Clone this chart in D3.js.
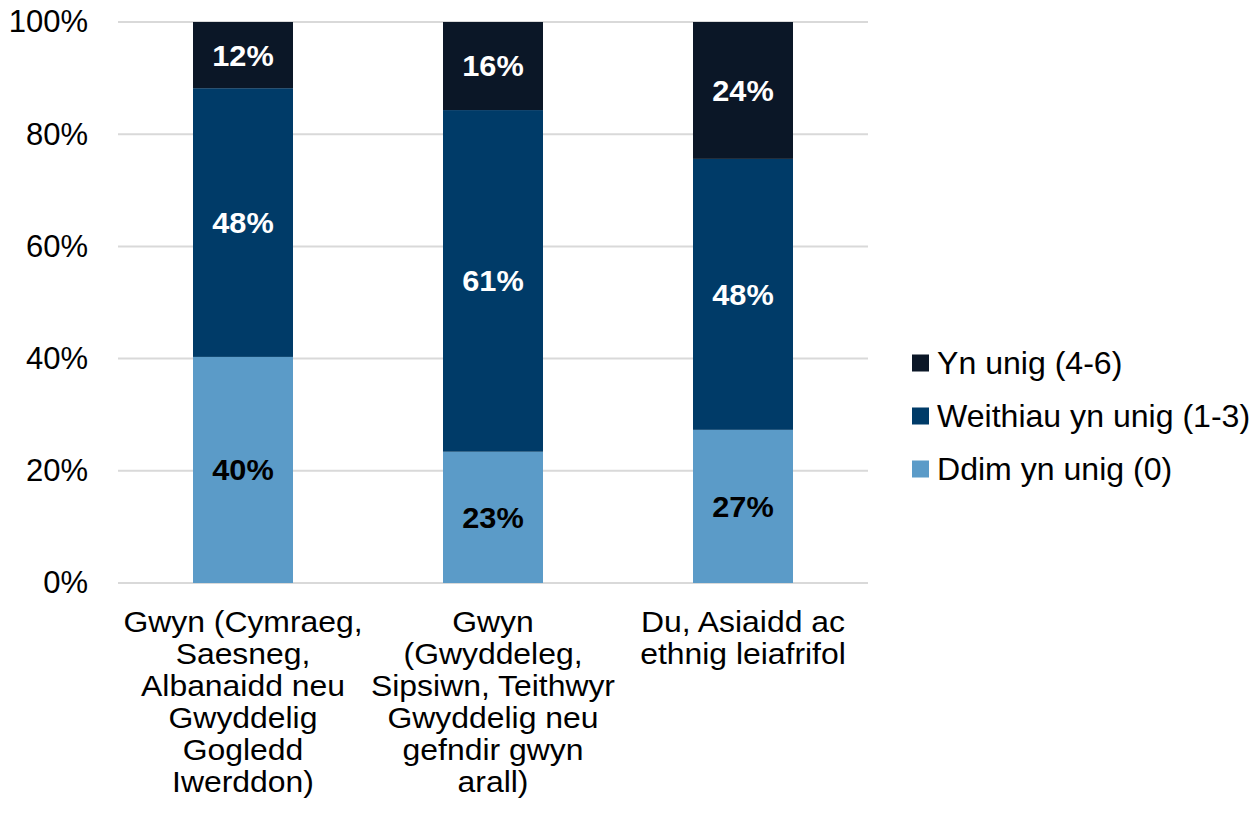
<!DOCTYPE html>
<html>
<head>
<meta charset="utf-8">
<script src="https://cdn.jsdelivr.net/npm/d3@7"></script>
<style>
  html, body { margin: 0; padding: 0; background: #fff; }
  svg text { font-family: "Liberation Sans", Arial, sans-serif; }
</style>
</head>
<body>
<svg id="chart" width="1258" height="823"></svg>
<script>
const categories = [
  ["Gwyn (Cymraeg,", "Saesneg,", "Albanaidd neu", "Gwyddelig", "Gogledd", "Iwerddon)"],
  ["Gwyn", "(Gwyddeleg,", "Sipsiwn, Teithwyr", "Gwyddelig neu", "gefndir gwyn", "arall)"],
  ["Du, Asiaidd ac", "ethnig leiafrifol"]
];
const seriesNames = ["Ddim yn unig (0)", "Weithiau yn unig (1-3)", "Yn unig (4-6)"];
const ddim = [40.3, 23.4, 27.3];
const weithiau = [47.9, 60.9, 48.3];
const ynUnig = [11.8, 15.7, 24.4];
const yTicks = [0, 20, 40, 60, 80, 100];

const colors = ["#5b9bc8", "#003b68", "#0b1727"];
const labelColors = ["#000", "#fff", "#fff"];

const svg = d3.select("#chart");
const plotLeft = 118, plotRight = 868, plotTop = 22, plotBottom = 583;

const x = d3.scaleBand().domain(d3.range(categories.length)).range([plotLeft, plotRight]).paddingInner(0.6).paddingOuter(0.3);
const y = d3.scaleLinear().domain([0, 100]).range([plotBottom, plotTop]);

// gridlines
svg.append("g").selectAll("line").data(yTicks).join("line")
  .attr("x1", plotLeft).attr("x2", plotRight)
  .attr("y1", d => y(d)).attr("y2", d => y(d))
  .attr("stroke", "#d9d9d9").attr("stroke-width", 2);

// y axis labels
const yAxis = d3.axisLeft(y).tickValues(yTicks).tickFormat(d => d + "%").tickSize(0).tickPadding(30);
const yg = svg.append("g").attr("transform", `translate(${plotLeft},0)`).call(yAxis);
yg.select(".domain").remove();
yg.selectAll("text").attr("font-size", 31).attr("fill", "#000").attr("font-family", "Liberation Sans, Arial, sans-serif");

// stacked data
const rows = categories.map((c, i) => ({ i, s0: ddim[i], s1: weithiau[i], s2: ynUnig[i] }));
const stack = d3.stack().keys(["s0", "s1", "s2"]);
const stacked = stack(rows);

const layers = svg.append("g").selectAll("g").data(stacked).join("g")
  .attr("fill", (d, k) => colors[k]);
layers.selectAll("rect").data(d => d).join("rect")
  .attr("x", d => x(d.data.i))
  .attr("width", x.bandwidth())
  .attr("y", d => y(d[1]))
  .attr("height", d => y(d[0]) - y(d[1]));

// value labels
const lab = svg.append("g").selectAll("g").data(stacked).join("g");
lab.each(function(layer, k) {
  d3.select(this).selectAll("text").data(layer).join("text")
    .attr("transform", d => `translate(${x(d.data.i) + x.bandwidth() / 2},${(y(d[0]) + y(d[1])) / 2}) scale(1.06,1)`)
    .attr("dy", "0.36em")
    .attr("text-anchor", "middle")
    .attr("font-size", 29)
    .attr("font-weight", "bold")
    .attr("fill", labelColors[k])
    .text(d => Math.round(d[1] - d[0]) + "%");
});

// category labels
const cat = svg.append("g").selectAll("text").data(categories).join("text")
  .attr("text-anchor", "middle")
  .attr("font-size", 29)
  .attr("fill", "#000")
  .attr("transform", (d, i) => `translate(${x(i) + x.bandwidth() / 2},632) scale(1.1,1)`);
cat.selectAll("tspan").data(d => d).join("tspan")
  .attr("x", 0)
  .attr("y", (d, j) => j * 32)
  .text(d => d);

// legend
const legendOrder = [2, 1, 0];
const lg = svg.append("g").selectAll("g").data(legendOrder).join("g")
  .attr("transform", (d, j) => `translate(912,${363 + j * 53})`);
lg.append("rect").attr("x", 0).attr("y", -8.5).attr("width", 17).attr("height", 17)
  .attr("fill", d => colors[d]);
lg.append("text")
  .attr("transform", "translate(25,0) scale(1.035,1)")
  .attr("dy", "0.36em")
  .attr("font-size", 31).attr("fill", "#000")
  .text(d => seriesNames[d]);
</script>
</body>
</html>
